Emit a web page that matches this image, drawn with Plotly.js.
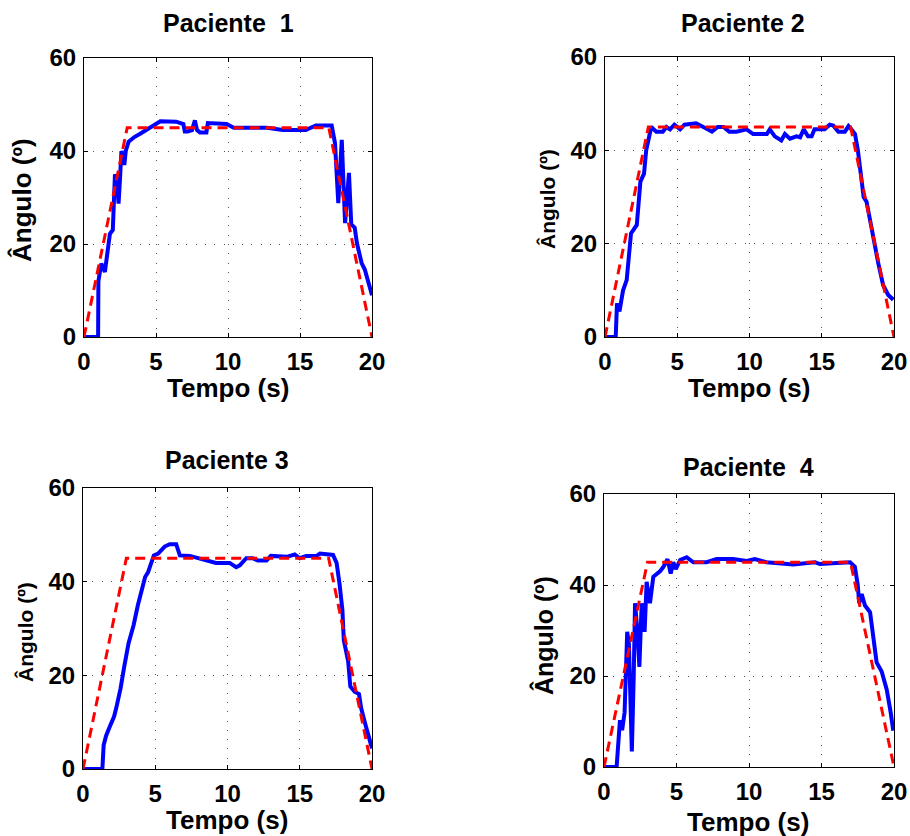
<!DOCTYPE html>
<html>
<head>
<meta charset="utf-8">
<script src="https://cdn.plot.ly/plotly-3.0.1.min.js"></script>
<style>html,body{margin:0;padding:0;background:#fff;}#chart{width:910px;height:836px;}</style>
</head>
<body>
<div id="chart"></div>
<script>
// Reference (desired) trajectory
const refT = [0, 3, 17, 20];
const refA = [0, 45, 45, 0];

// Paciente 1
const t1 = [0, 0.98, 1.0, 1.2, 1.45, 1.6, 1.8, 2.0, 2.1, 2.15, 2.3, 2.4, 2.5, 2.6, 2.8, 2.9, 3.1, 3.5, 3.9, 4.6, 5.3, 6.4, 6.9, 7.0, 7.2, 7.5, 7.7, 7.85, 8.05, 8.5, 8.6, 9.9, 10.4, 12.7, 13.8, 15.4, 16.1, 17.2, 17.43, 17.66, 17.9, 18.13, 18.4, 18.56, 18.8, 18.95, 19.28, 19.5, 19.75, 20];
const a1 = [0, 0, 12, 15.8, 14, 18, 22.2, 23, 30, 35, 33, 28.7, 34, 40, 37, 40, 42, 43, 43.7, 45, 46.4, 46.3, 45.8, 44.2, 44.2, 44.5, 46.6, 44.5, 44, 44, 46, 45.8, 45, 45, 44.5, 44.5, 45.5, 45.5, 41.7, 28.8, 42.4, 24.5, 35.3, 24.2, 23.5, 20.2, 15.9, 14.5, 11.6, 9];

// Paciente 2
const t2 = [0, 0.74, 0.83, 1.0, 1.25, 1.5, 1.8, 2.05, 2.2, 2.45, 2.7, 2.85, 3.2, 3.55, 4.0, 4.25, 4.5, 4.8, 5.2, 5.5, 6.3, 6.8, 7.4, 7.8, 8.2, 8.6, 9.1, 9.8, 10.25, 11.2, 11.4, 11.75, 12.2, 12.45, 12.8, 13.25, 13.5, 13.75, 14.05, 14.3, 14.5, 15.2, 15.55, 15.8, 16.15, 16.6, 16.85, 17.05, 17.3, 17.5, 17.7, 17.9, 18.1, 18.35, 18.55, 18.9, 19.25, 19.6, 19.95];
const a2 = [0, 0, 7.2, 5.5, 10, 12.2, 22.2, 23.5, 24, 33.3, 35, 40, 45, 44, 44, 45, 44.5, 45.5, 44.5, 45.5, 45.8, 45, 44, 45, 45, 44, 44, 44.5, 43.5, 43.5, 44.5, 43, 42.1, 43.5, 42.5, 43, 42.8, 44.5, 43, 43, 44.5, 44.5, 45.5, 45.3, 44, 44, 45.2, 44.5, 43.5, 40, 35, 30, 29, 25, 21, 16, 11.1, 9, 8];

// Paciente 3
const t3 = [0, 1.34, 1.43, 1.6, 1.85, 2.15, 2.3, 2.6, 2.85, 3.15, 3.5, 3.8, 4.3, 4.5, 4.9, 5.2, 5.65, 6.0, 6.45, 6.7, 7.4, 8.1, 8.8, 9.2, 10.15, 10.6, 10.85, 11.3, 11.75, 12.1, 12.7, 13.0, 14.1, 14.65, 15.0, 15.45, 16.15, 16.4, 17.3, 17.55, 17.75, 17.95, 18.05, 18.35, 18.5, 18.8, 19.1, 19.25, 19.5, 19.7, 20];
const a3 = [0, 0, 5.1, 7.1, 9, 11.2, 13, 17.2, 21.8, 26.8, 30.7, 35, 41, 42, 45.6, 46, 47.5, 48, 48, 45.6, 45.5, 45, 44.5, 44, 44, 43.1, 43.5, 45, 45, 44.5, 44.5, 45.5, 45.3, 45.8, 45, 45.5, 45.5, 46, 45.7, 44, 39.6, 34, 27.5, 23, 17.6, 16.5, 16, 13, 10, 8, 4.4];

// Paciente 4
const t4 = [0, 0.87, 1.1, 1.25, 1.42, 1.6, 1.72, 1.8, 1.92, 2.05, 2.14, 2.3, 2.44, 2.53, 2.6, 2.8, 2.94, 3.17, 3.4, 3.86, 4.1, 4.38, 4.6, 4.78, 4.95, 5.25, 5.7, 6.16, 7.08, 7.77, 8.9, 9.84, 10.4, 11.2, 12.4, 13.05, 14.55, 14.9, 16.97, 17.3, 17.5, 17.6, 17.77, 18.0, 18.35, 18.53, 18.8, 19.15, 19.5, 19.77, 19.95];
const a4 = [0, 0, 10.3, 8.1, 12, 29.7, 27, 17, 3.4, 20, 36, 30, 22, 30, 36, 29.7, 40.7, 36, 41.8, 43, 44, 45.7, 42.5, 45, 43.5, 45.5, 46.1, 45, 45, 45.7, 45.7, 45.3, 45.7, 45, 44.8, 44.5, 45, 44.6, 45, 44, 40, 36, 38, 35.5, 34, 30, 23, 21, 17, 12, 8];

const tempos = [t1, t2, t3, t4];
const angulos = [a1, a2, a3, a4];
const titulos = ['Paciente\u00a0\u00a01', 'Paciente 2', 'Paciente 3', 'Paciente\u00a0\u00a04'];
const xTitle = 'Tempo (s)';
const yTitle = 'Ângulo (º)';
const xTicks = [0, 5, 10, 15, 20];
const yTicks = [0, 20, 40, 60];

const W = 910, H = 836;
// pixel boxes [left, right, top, bottom]
const boxes = [[84, 372, 58, 337], [605, 894, 57, 337], [83, 372, 488, 769], [604, 894, 494, 767]];
const titlePos = [[228, 23], [743, 23], [227, 460], [748, 467]];
const xTitlePos = [[228, 388], [749, 388], [227, 820], [748, 822]];
const yTitlePos = [[22, 200], [547, 199], [25, 632], [543, 636]];
const yTitleSize = [26, 21, 21, 25];

const FONT = 'Liberation Sans, Arial, Helvetica, sans-serif';
const traces = [];
const layout = {
  width: W, height: H,
  margin: {l: 0, r: 0, t: 0, b: 0},
  paper_bgcolor: '#fff', plot_bgcolor: '#fff',
  showlegend: false,
  font: {family: FONT, color: '#000', size: 22},
  annotations: []
};

for (let i = 0; i < 4; i++) {
  const n = i === 0 ? '' : String(i + 1);
  const b = boxes[i];
  const axCommon = {
    showline: true, mirror: 'ticks', linecolor: '#000', linewidth: 1,
    ticks: 'inside', ticklen: 4, tickcolor: '#000', tickwidth: 1,
    showgrid: true, gridcolor: '#555', griddash: '1px,8.3px', gridwidth: 1,
    zeroline: false, tickmode: 'array',
    tickfont: {family: FONT, size: 24, weight: 'bold', color: '#000'},
    fixedrange: true
  };
  layout['xaxis' + n] = Object.assign({}, axCommon, {
    domain: [b[0] / W, b[1] / W], range: [0, 20], tickvals: xTicks,
    anchor: 'y' + n, ticklabelstandoff: 3
  });
  layout['yaxis' + n] = Object.assign({}, axCommon, {
    domain: [1 - b[3] / H, 1 - b[2] / H], range: [0, 60], tickvals: yTicks,
    anchor: 'x' + n, ticklabelstandoff: 2
  });
  traces.push({
    x: tempos[i], y: angulos[i], xaxis: 'x' + n, yaxis: 'y' + n,
    type: 'scatter', mode: 'lines', line: {color: '#0000ff', width: 4},
    cliponaxis: true, hoverinfo: 'skip'
  });
  traces.push({
    x: refT, y: refA, xaxis: 'x' + n, yaxis: 'y' + n,
    type: 'scatter', mode: 'lines', line: {color: '#ff0000', width: 3, dash: '10px,6px'},
    hoverinfo: 'skip'
  });
  layout.annotations.push({
    text: titulos[i], xref: 'paper', yref: 'paper', showarrow: false,
    x: titlePos[i][0] / W, y: 1 - titlePos[i][1] / H, xanchor: 'center', yanchor: 'middle',
    font: {family: FONT, size: 25, weight: 'bold', color: '#000'}
  });
  layout.annotations.push({
    text: xTitle, xref: 'paper', yref: 'paper', showarrow: false,
    x: xTitlePos[i][0] / W, y: 1 - xTitlePos[i][1] / H, xanchor: 'center', yanchor: 'middle',
    font: {family: FONT, size: 26, weight: 'bold', color: '#000'}
  });
  layout.annotations.push({
    text: yTitle, xref: 'paper', yref: 'paper', showarrow: false, textangle: -90,
    x: yTitlePos[i][0] / W, y: 1 - yTitlePos[i][1] / H, xanchor: 'center', yanchor: 'middle',
    font: {family: FONT, size: yTitleSize[i], weight: 'bold', color: '#000'}
  });
}

Plotly.newPlot('chart', traces, layout, {displayModeBar: false, staticPlot: true});
</script>
</body>
</html>
